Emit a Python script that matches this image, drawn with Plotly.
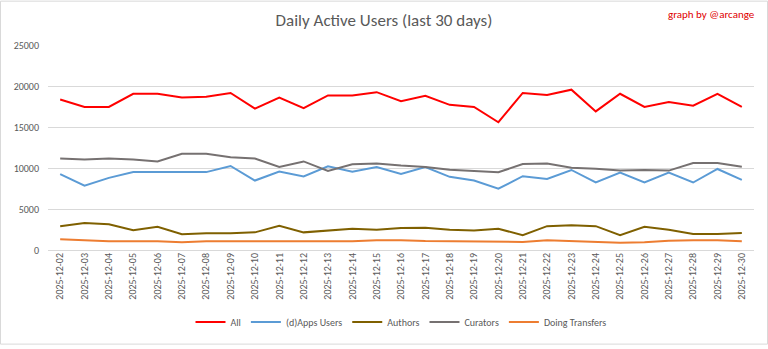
import plotly.graph_objects as go

dates = ["2025-12-%02d" % d for d in range(2, 31)]
all_users = [18350, 17450, 17450, 19050, 19050, 18600, 18700, 19150, 17250, 18600, 17300, 18850, 18850, 19250, 18150,
             18800, 17700, 17450, 15580, 19150, 18900, 19550, 16900, 19050, 17450, 18050, 17600, 19050, 17450]
apps_users = [9250, 7850, 8800, 9500, 9500, 9500, 9500, 10250, 8470, 9560, 8960, 10200, 9560, 10120, 9280,
              10120, 8920, 8470, 7470, 9000, 8670, 9760, 8230, 9440, 8230, 9440, 8230, 9880, 8550]
authors = [2900, 3300, 3150, 2400, 2830, 1920, 2030, 2030, 2150, 2950, 2150, 2390, 2590, 2480, 2680,
           2710, 2470, 2390, 2590, 1800, 2910, 3030, 2910, 1800, 2830, 2470, 1950, 1950, 2070]
curators = [11150, 11050, 11150, 11050, 10800, 11730, 11730, 11300, 11150, 10130, 10800, 9650, 10450, 10560, 10300,
            10120, 9800, 9680, 9480, 10480, 10560, 10040, 9920, 9680, 9760, 9680, 10600, 10600, 10160]
transfers = [1300, 1180, 1060, 1060, 1060, 950, 1060, 1060, 1060, 1060, 1060, 1060, 1060, 1180, 1200,
             1100, 1060, 980, 980, 980, 1180, 1060, 940, 870, 940, 1140, 1180, 1180, 1060]

series = [
    ("All", all_users, "#ff0000"),
    ("(d)Apps Users", apps_users, "#5b9bd5"),
    ("Authors", authors, "#7f6000"),
    ("Curators", curators, "#767171"),
    ("Doing Transfers", transfers, "#ed7d31"),
]

FONT = "Carlito, Lato, 'Open Sans', sans-serif"

fig = go.Figure()
for name, vals, col in series:
    fig.add_trace(go.Scatter(x=dates, y=vals, name=name, mode="lines",
                             line=dict(color=col, width=2)))

L, R, T, B = 48, 14, 45, 96
W, H = 768, 349
pw, ph = W - L - R, H - T - B

fig.update_layout(
    width=W, height=H,
    margin=dict(l=L, r=R, t=T, b=B, pad=0),
    paper_bgcolor="white", plot_bgcolor="white",
    font=dict(family=FONT, color="#595959", size=10),
    title=dict(text="Daily Active Users (last 30 days)", x=0.5, xanchor="center",
               y=1 - 20 / H, yanchor="middle", font=dict(size=17, color="#595959")),
    xaxis=dict(type="category", tickangle=-90, showgrid=False, showline=False,
               ticks="", tickfont=dict(size=10, color="#595959"), range=[-0.5, 28.5]),
    yaxis=dict(range=[0, 25000], dtick=5000, tickformat="d", showgrid=True, gridcolor="#d9d9d9", gridwidth=1,
               zeroline=True, zerolinecolor="#d9d9d9", zerolinewidth=1,
               tickfont=dict(size=10, color="#595959"), ticklabelstandoff=8),
    legend=dict(orientation="h", x=0.5, xanchor="center", y=(253 - 326) / ph, yanchor="middle",
                font=dict(size=10, color="#595959"), itemwidth=30, bgcolor="rgba(0,0,0,0)"),
    showlegend=True,
)

fig.add_annotation(text="graph by @arcange", xref="paper", yref="paper",
                   x=(757 - L) / pw, y=(253 - 14) / ph, xanchor="right", yanchor="middle",
                   showarrow=False, font=dict(size=11, color="#e00000"))

fig.add_shape(type="rect", xref="paper", yref="paper",
              x0=(0.5 - L) / pw, x1=(W - 0.5 - L) / pw,
              y0=(253 - (H - 0.5)) / ph, y1=(253 - 0.5) / ph,
              line=dict(color="#d9d9d9", width=1), fillcolor="rgba(0,0,0,0)", layer="below")

fig.write_html("out.html")
